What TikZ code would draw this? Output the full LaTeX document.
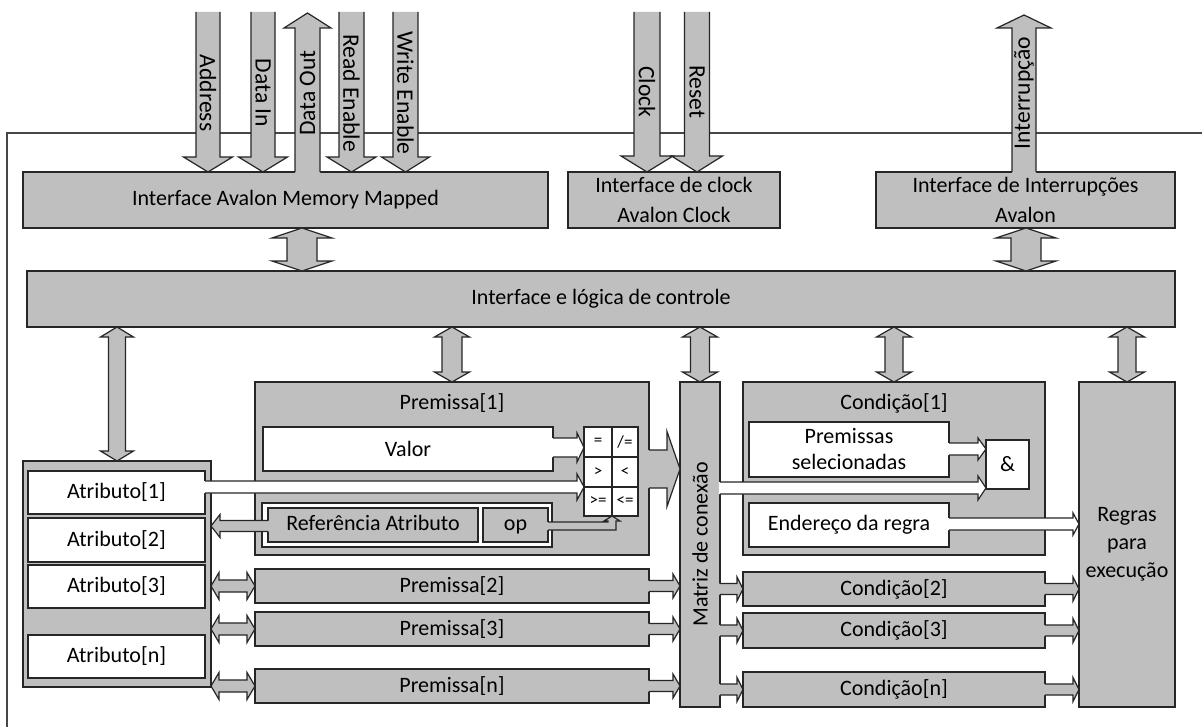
\documentclass[tikz,border=0pt]{standalone}
\usepackage{fontspec}
\setmainfont{Carlito}
\usetikzlibrary{fit}

\definecolor{boxgray}{RGB}{191,191,191}
\definecolor{edge}{RGB}{38,38,38}

\tikzset{
  edgeline/.style={draw=edge, line width=0.6pt, line join=miter},
  frameline/.style={draw=edge!85, line width=0.55pt},
  graybox/.style={edgeline, fill=boxgray, inner sep=0pt, outer sep=0pt},
  whitebox/.style={edgeline, fill=white, inner sep=0pt, outer sep=0pt},
  lbl/.style={font=\fontsize{11}{14}\selectfont, align=center, inner sep=0pt},
  lblwide/.style={font=\fontsize{11}{15}\selectfont, align=center, inner sep=0pt},
  sig/.style={font=\fontsize{11.8}{14}\selectfont, inner sep=0pt},
  cell/.style={font=\fontsize{8.5}{10}\selectfont, inner sep=0pt},
  evenline/.style={text height=1.55ex, text depth=0.45ex},
}

% block given by two corners (pixel units)
\newcommand{\blk}[6]{\node[#1, fit={(#2,#3) (#4,#5)}] (#6) {};}

% horizontal fat arrow, open at its base:
% fill, base x, head x, tip x, centre y, shaft half width, head half width, fill start x
\newcommand{\arrowH}[8]{%
  \fill[#1] (#8,#5-#6) -- (#3,#5-#6) -- (#3,#5-#7) -- (#4,#5) -- (#3,#5+#7) -- (#3,#5+#6) -- (#8,#5+#6) -- cycle;
  \draw[edgeline] (#2,#5-#6) -- (#3,#5-#6) -- (#3,#5-#7) -- (#4,#5) -- (#3,#5+#7) -- (#3,#5+#6) -- (#2,#5+#6);}

% vertical fat arrow, open at its base:
% fill, centre x, base y, head y, tip y, shaft half width, head half width, fill start y
\newcommand{\arrowV}[8]{%
  \fill[#1] (#2-#6,#8) -- (#2-#6,#4) -- (#2-#7,#4) -- (#2,#5) -- (#2+#7,#4) -- (#2+#6,#4) -- (#2+#6,#8) -- cycle;
  \draw[edgeline] (#2-#6,#3) -- (#2-#6,#4) -- (#2-#7,#4) -- (#2,#5) -- (#2+#7,#4) -- (#2+#6,#4) -- (#2+#6,#3);}

% two-headed fat arrows: centre, start, end, shaft half width, head half width, head length
\newcommand{\dblV}[6]{%
  \filldraw[edgeline, fill=boxgray] (#1,#2) -- (#1+#5,#2+#6) -- (#1+#4,#2+#6) -- (#1+#4,#3-#6) -- (#1+#5,#3-#6) -- (#1,#3) -- (#1-#5,#3-#6) -- (#1-#4,#3-#6) -- (#1-#4,#2+#6) -- (#1-#5,#2+#6) -- cycle;}
\newcommand{\dblH}[6]{%
  \filldraw[edgeline, fill=boxgray] (#2,#1) -- (#2+#6,#1-#5) -- (#2+#6,#1-#4) -- (#3-#6,#1-#4) -- (#3-#6,#1-#5) -- (#3,#1) -- (#3-#6,#1+#5) -- (#3-#6,#1+#4) -- (#2+#6,#1+#4) -- (#2+#6,#1+#5) -- cycle;}

\begin{document}
\begin{tikzpicture}[x=0.5pt,y=-0.5pt]
\useasboundingbox (0,0) rectangle (1202,727);
\fill[white] (0,0) rectangle (1202,727);

% component boundary
\draw[frameline] (1202,133) -- (7,133) -- (7,727);

% ---------- Avalon interfaces ----------
\blk{graybox}{23}{172}{548}{228}{avmm}
\node[lbl] at (avmm) {Interface Avalon Memory Mapped};
\blk{graybox}{568}{172}{780}{228}{clk}
\node[lblwide] at (clk) {Interface de clock\\Avalon Clock};
\blk{graybox}{876}{172}{1175}{228}{irq}
\node[lblwide] at (irq) {Interface de Interrupções\\Avalon};

% bus signals
\arrowV{boxgray}{208}{12}{157}{172}{12}{24.5}{12}
\arrowV{boxgray}{263}{12}{157}{172}{12}{24.5}{12}
\arrowV{boxgray}{307.5}{172}{28}{13}{12.5}{23.5}{173.2}
\arrowV{boxgray}{351.5}{12}{157}{172}{12.5}{24.5}{12}
\arrowV{boxgray}{405.5}{12}{157}{172}{12.5}{24}{12}
\arrowV{boxgray}{647}{12}{156}{172}{13}{26}{12}
\arrowV{boxgray}{697}{12}{156}{172}{12.5}{25.5}{12}
\arrowV{boxgray}{1024}{172}{28}{15}{12}{27}{173.2}

\node[sig, rotate=-90] (sAddr) at (208,93) {Address};
\node[sig, rotate=-90] (sDin) at (263,93) {Data In};
\node[sig, rotate=90] (sDout) at (307.5,93) {Data Out};
\node[sig, rotate=-90] (sRe) at (351.5,93) {Read Enable};
\node[sig, rotate=-90] (sWe) at (405.5,93) {Write Enable};
\node[sig, rotate=-90] (sClk) at (647,92) {Clock};
\node[sig, rotate=-90] (sRst) at (697,92) {Reset};
\node[sig, rotate=90] (sIrq) at (1024,93) {Interrupção};

% ---------- control ----------
\blk{graybox}{27}{271}{1175}{327}{ctrl}
\node[lbl] at (ctrl) {Interface e lógica de controle};
\dblV{302}{228}{271}{15}{30}{10}
\dblV{1026}{228}{271}{15}{30}{10}

% ---------- attribute memory ----------
\blk{graybox}{23}{461}{211}{687}{atr}
\blk{whitebox}{28}{471}{205}{514}{atr1}
\blk{whitebox}{28}{518}{205}{562}{atr2}
\blk{whitebox}{28}{565}{205}{608}{atr3}
\blk{whitebox}{28}{635}{205}{678}{atrn}
\node[lbl] at (atr1) {Atributo[1]};
\node[lbl] at (atr2) {Atributo[2]};
\node[lbl] at (atr3) {Atributo[3]};
\node[lbl] at (atrn) {Atributo[n]};

% ---------- premises ----------
\blk{graybox}{255}{382}{649}{555}{prem1}
\node[lbl] (prem1t) at (452,403) {Premissa[1]};
\blk{whitebox}{263}{427}{553}{471}{valor}
\node[lbl] at (valor) {Valor};
\blk{whitebox}{262}{503}{552}{547}{refc}
\blk{graybox}{268}{508}{478}{542}{refat}
\node[lbl, evenline] at (refat) {Referência Atributo};
\blk{graybox}{483}{508}{548}{542}{op}
\node[lbl, evenline] at (op) {op};

% comparator table
\blk{whitebox}{584}{427}{638}{516}{cmp}
\draw[edgeline] (612,427) -- (612,516) (584,457) -- (638,457) (584,487) -- (638,487);
\node[cell] at (598,442) {=};
\node[cell] at (625,442) {/=};
\node[cell] at (598,472) {>};
\node[cell] at (625,472) {<};
\node[cell] at (598,501.5) {>=};
\node[cell] at (625,501.5) {<=};

\blk{graybox}{255}{569}{649}{603}{prem2}
\blk{graybox}{255}{612}{649}{646}{prem3}
\blk{graybox}{255}{669}{649}{703}{premn}
\node[lbl] at (prem2) {Premissa[2]};
\node[lbl] at (prem3) {Premissa[3]};
\node[lbl] at (premn) {Premissa[n]};

% ---------- connection matrix ----------
\blk{graybox}{680}{382}{720}{707}{matriz}
\node[lbl, rotate=90] at (matriz) {Matriz de conexão};

% ---------- conditions ----------
\blk{graybox}{743}{382}{1045}{555}{cond1}
\node[lbl] (cond1t) at (894,403) {Condição[1]};
\blk{whitebox}{749}{422}{949}{477}{psel}
\node[lbl, font=\fontsize{11}{13}\selectfont] at (psel) {Premissas\\selecionadas};
\blk{whitebox}{986}{440}{1029}{489}{andg}
\node[lbl] at (andg) {\&};
\blk{whitebox}{749}{503}{949}{547}{ender}
\node[lbl] at (ender) {Endereço da regra};

\blk{graybox}{743}{572}{1045}{606}{cond2}
\blk{graybox}{743}{613}{1045}{648}{cond3}
\blk{graybox}{743}{672}{1045}{707}{condn}
\node[lbl] at (cond2) {Condição[2]};
\node[lbl] at (cond3) {Condição[3]};
\node[lbl] at (condn) {Condição[n]};

% ---------- rules ----------
\blk{graybox}{1079}{382}{1175}{707}{regras}
\node[lbl] at (regras) {Regras\\para\\execução};

% ---------- control buses ----------
\dblV{117}{327}{461}{8.5}{16.5}{10}
\dblV{452}{327}{382}{10}{17.5}{10}
\dblV{700}{327}{382}{9.5}{17.5}{10}
\dblV{894}{327}{382}{9}{17.5}{10}
\dblV{1127}{327}{382}{9}{17.5}{10}

% attribute reads of the other premises
\dblH{586}{211}{255}{6}{13.5}{8}
\dblH{629}{211}{255}{6}{13.5}{8}
\dblH{686}{211}{255}{6}{13.5}{8}

% ---------- data paths inside Premissa[1] ----------
\arrowH{white}{553}{577}{584}{447.5}{9.5}{14.5}{551.8}
\arrowH{white}{205}{577}{584}{487}{6}{13}{203.8}
\arrowH{boxgray}{268}{220}{211}{526}{5.5}{11.5}{269.2}
% op selects the comparison
\fill[boxgray] (547,522) -- (608,522) -- (608,521) -- (604,521) -- (612,516) -- (620,521) -- (616,521) -- (616,530) -- (547,530) -- cycle;
\draw[edgeline] (548,522) -- (608,522) -- (608,521) -- (604,521) -- (612,516) -- (620,521) -- (616,521) -- (616,530) -- (548,530);

% premises into the matrix
\arrowH{boxgray}{649}{667}{680}{469}{19}{37.5}{647.8}
\arrowH{boxgray}{649}{673}{680}{586}{5.5}{12}{647.8}
\arrowH{boxgray}{649}{673}{680}{629}{5.5}{12}{647.8}
\arrowH{boxgray}{649}{673}{680}{686}{5.5}{12}{647.8}

% matrix into the conditions
\arrowH{white}{720}{978}{986}{488}{6}{12}{718.8}
\arrowH{boxgray}{720}{737}{743}{589}{5.5}{12}{718.8}
\arrowH{boxgray}{720}{737}{743}{630.5}{5.5}{12}{718.8}
\arrowH{boxgray}{720}{737}{743}{689.5}{5.5}{12}{718.8}

% inside Condição[1]
\arrowH{white}{949}{978}{986}{449}{6}{11}{947.8}
\arrowH{white}{949}{1073}{1079}{524}{6}{11}{947.8}

% conditions into the rule list
\arrowH{boxgray}{1045}{1073}{1079}{589}{5.5}{12}{1043.8}
\arrowH{boxgray}{1045}{1073}{1079}{630.5}{5.5}{12}{1043.8}
\arrowH{boxgray}{1045}{1073}{1079}{689.5}{5.5}{12}{1043.8}
\end{tikzpicture}
\end{document}
